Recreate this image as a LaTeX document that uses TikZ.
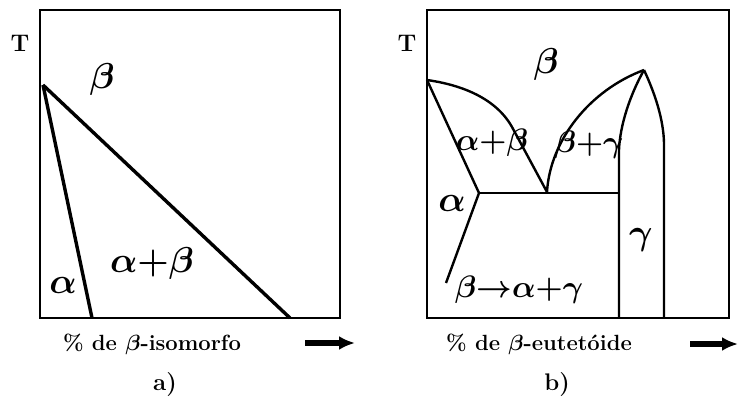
\RequirePackage{fix-cm}
\documentclass[tikz,border=0pt]{standalone}
\usepackage{fontspec}
\usetikzlibrary{arrows.meta}
\begin{document}
\begin{tikzpicture}[x=1pt, y=-1pt, >=Latex,
  frame/.style={line width=2pt},
  phase/.style={line width=3.4pt, line join=round},
  thin phase/.style={line width=2.4pt, line join=round},
  region/.style={font=\boldmath\fontsize{36}{36}\selectfont, inner sep=0pt},
  small region/.style={font=\boldmath\fontsize{31}{31}\selectfont, inner sep=0pt},
  axis/.style={font=\boldmath\bfseries\fontsize{22}{22}\selectfont, inner sep=0pt},
  tag/.style={font=\bfseries\fontsize{24}{24}\selectfont, inner sep=0pt},
  fat/.style={line width=6pt, -{Latex[length=16pt,width=14pt]}}]
\useasboundingbox (0,0) rectangle (738,406);
% a) isomorphous beta stabiliser
\draw[frame] (40,10) rectangle (340,318);
\coordinate (aTop) at (43,85);
\coordinate (aSolv) at (92,318);
\coordinate (aLiq) at (290,318);
\draw[phase] (aTop) -- (aLiq);
\draw[phase] (aTop) -- (aSolv);
\node[tag] (aT) at (20,43) {T};
\node[region] (aBeta) at (102,80) {$\beta$};
\node[region] (aTwo) at (152,263) {$\alpha{+}\beta$};
\node[region] (aAlpha) at (63,285) {$\alpha$};
\node[axis] (aAxis) at (152,344) {\% de $\beta$-isomorfo};
\coordinate (aArrS) at (305,343);
\coordinate (aArrE) at (355,343);
\draw[fat] (aArrS) -- (aArrE);
\node[tag] (aTag) at (165,385) {a)};
% b) eutectoid beta stabiliser
\draw[frame] (427,10) rectangle (729,318);
\coordinate (bTop) at (427,80);
\coordinate (bEut) at (547,192);
\coordinate (bPeak) at (644,70);
\coordinate (bKnee) at (479,193);
\coordinate (bEnd) at (619,193);
\draw[thin phase] (bTop) .. controls (455,84) and (494,95) .. (512,127) -- (bEut);
\draw[thin phase] (bEut) .. controls (550,140) and (590,90) .. (bPeak);
\draw[thin phase] (bPeak) .. controls (630,95) and (620,125) .. (619,150) -- (619,318);
\draw[thin phase] (bPeak) .. controls (658,100) and (664,125) .. (664,145) -- (664,318);
\draw[thin phase] (bTop) -- (bKnee) -- (446,283);
\draw[thin phase] (bKnee) -- (bEnd);
\node[tag] (bT) at (407,43) {T};
\node[region] (bBeta) at (546,65) {$\beta$};
\node[small region] (bAB) at (492,143) {$\alpha{+}\beta$};
\node[small region] (bBG) at (589,145) {$\beta{+}\gamma$};
\node[region] (bAlpha) at (452,203) {$\alpha$};
\node[region] (bGamma) at (641,240) {$\gamma$};
\node[small region] (bTrans) at (519,290) {$\beta{\rightarrow}\alpha{+}\gamma$};
\node[axis] (bAxis) at (539,344) {\% de $\beta$-eutetóide};
\coordinate (bArrS) at (690,344);
\coordinate (bArrE) at (738,344);
\draw[fat] (bArrS) -- (bArrE);
\node[tag] (bTag) at (557,385) {b)};
\end{tikzpicture}
\end{document}
